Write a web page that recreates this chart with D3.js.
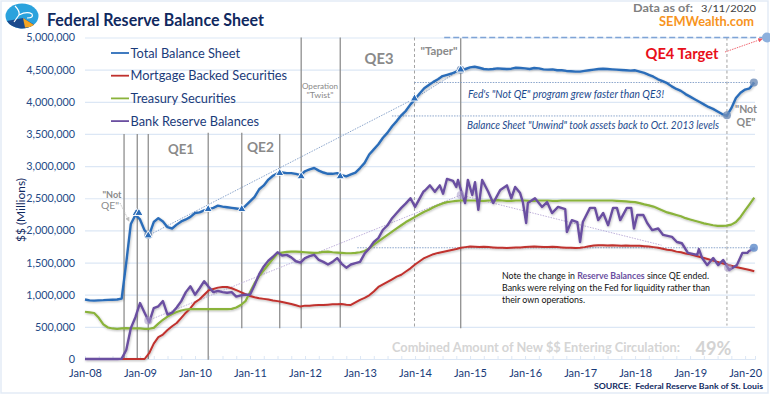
<!DOCTYPE html>
<html>
<head>
<meta charset="utf-8">
<script src="https://cdn.jsdelivr.net/npm/d3@7"></script>
<style>
html, body { margin: 0; padding: 0; background: #fff; }
svg { display: block; }
text { font-family: Lato, sans-serif; }
</style>
</head>
<body>
<svg id="chart" width="770" height="395"></svg>
<script>
// monthly values, $ billions (axis labels are shown in millions)
var totalAssets = [
    925,912,908,912,915,920,922,925,940,1500,2100,2240,
    2170,2000,1930,2130,2190,2140,2050,2030,2090,2140,2170,2210,
    2270,2280,2310,2330,2350,2385,2370,2360,2350,2340,2330,2380,
    2450,2520,2640,2700,2790,2850,2890,2900,2890,2890,2880,2860,
    2920,2950,2970,2930,2900,2880,2880,2890,2860,2840,2870,2900,
    2970,3050,3180,3260,3340,3440,3520,3620,3700,3790,3860,3960,
    4040,4130,4210,4260,4310,4350,4400,4420,4440,4470,4490,4510,
    4535,4545,4530,4510,4505,4510,4520,4515,4510,4515,4530,4525,
    4520,4510,4525,4520,4505,4500,4505,4490,4490,4480,4475,4470,
    4470,4480,4490,4500,4510,4515,4510,4505,4500,4495,4490,4485,
    4490,4470,4450,4420,4390,4350,4320,4290,4240,4200,4170,4120,
    4080,4040,4000,3960,3920,3890,3850,3810,3780,3900,4060,4140,
    4190,4210,4300
];
var mortgageBacked = [
    0,0,0,0,0,0,0,0,0,0,0,0,
    0,0,90,240,340,380,450,510,560,640,720,790,
    880,930,1000,1070,1090,1110,1120,1120,1100,1070,1040,1010,
    980,960,945,935,925,910,900,885,870,855,835,815,
    830,830,835,840,840,845,850,850,855,845,840,880,
    920,950,990,1050,1120,1160,1200,1240,1280,1310,1360,1410,
    1470,1520,1570,1600,1630,1650,1665,1680,1695,1710,1730,1740,
    1750,1745,1740,1745,1740,1735,1730,1730,1725,1730,1735,1735,
    1740,1745,1750,1745,1740,1740,1745,1740,1735,1730,1730,1725,
    1730,1740,1755,1765,1770,1770,1765,1770,1765,1760,1765,1760,
    1760,1760,1755,1750,1740,1730,1715,1700,1690,1670,1660,1640,
    1630,1610,1590,1570,1550,1530,1510,1490,1470,1450,1430,1415,
    1400,1385,1365
];
var treasurySecurities = [
    735,725,715,640,540,490,475,470,475,480,475,475,
    475,470,470,485,550,610,660,700,730,755,770,775,
    775,775,775,775,775,775,775,775,780,800,840,900,
    1040,1180,1290,1380,1470,1560,1640,1655,1665,1670,1670,1665,
    1660,1655,1650,1655,1665,1670,1660,1655,1650,1645,1645,1650,
    1660,1680,1720,1780,1830,1880,1930,1980,2030,2080,2130,2170,
    2210,2250,2290,2320,2360,2390,2420,2440,2450,2460,2465,2465,
    2465,2465,2460,2460,2465,2465,2470,2465,2460,2460,2465,2465,
    2465,2460,2460,2465,2465,2465,2460,2460,2465,2465,2465,2465,
    2465,2465,2465,2465,2465,2465,2465,2465,2460,2455,2450,2445,
    2440,2425,2405,2390,2370,2340,2310,2280,2260,2240,2220,2190,
    2170,2150,2130,2110,2095,2080,2070,2070,2075,2090,2130,2210,
    2310,2410,2510
];
// reserves are read monthly up to 2013, then spike by spike
var reserveEarly = [
    0,0,0,0,0,0,0,0,5,140,480,650,
    870,720,570,790,820,900,690,720,800,900,1040,1130,
    1000,1100,1210,1120,1040,1060,1040,1030,1040,970,990,1000,
    1000,1150,1320,1440,1530,1590,1660,1610,1620,1580,1520,1500,
    1570,1600,1620,1540,1510,1470,1510,1570,1480,1420,1470,1490,
    1510,1640,1720,1820,1880,2010,2080,2190,2270,2350,2420,2500
];
var reserveLateYears = [
    2014.00,2014.15,2014.18,2014.27,2014.36,2014.45,2014.51,2014.58,2014.69,2014.75,2014.78,2014.85,2014.91,2014.96,
    2015.04,2015.09,2015.15,2015.22,2015.33,2015.42,2015.55,2015.67,2015.75,2015.82,2015.91,2015.96,
    2016.02,2016.05,2016.18,2016.31,2016.40,2016.49,2016.60,2016.73,2016.76,2016.85,2016.95,
    2017.00,2017.05,2017.18,2017.27,2017.33,2017.42,2017.51,2017.60,2017.67,2017.73,2017.85,2017.93,2017.98,
    2018.04,2018.15,2018.22,2018.31,2018.42,2018.51,2018.67,2018.76,2018.85,2018.96,
    2019.13,2019.16,2019.22,2019.31,2019.42,2019.51,2019.60,2019.71,2019.85,2019.95,
    2020.04,2020.07,2020.18
];
var reserveLate = [
    2365,2600,2620,2700,2600,2700,2570,2800,2770,2675,2785,2580,2425,2785,
    2550,2750,2320,2785,2600,2425,2630,2700,2500,2675,2580,2440,
    2115,2425,2500,2365,2440,2270,2365,2330,1975,2160,2130,
    1820,2130,2350,2350,2160,2270,2080,2350,2350,2160,2350,2350,2030,
    2240,2240,2115,2005,2030,1930,1900,1820,1800,1650,
    1620,1710,1570,1460,1570,1460,1540,1385,1460,1650,
    1650,1680,1725
];

var yTicks = [0,500,1000,1500,2000,2500,3000,3500,4000,4500,5000];
var xTickYears = [2008,2009,2010,2011,2012,2013,2014,2015,2016,2017,2018,2019,2020];
var xTickLabels = ["Jan-08","Jan-09","Jan-10","Jan-11","Jan-12","Jan-13","Jan-14","Jan-15","Jan-16","Jan-17","Jan-18","Jan-19","Jan-20"];

// program dates: year, top and bottom of the rule in $ billions
var solidRules = [
    [2008.71,3500,0],[2008.95,3500,0],[2009.15,3500,0],[2010.24,3520,-10],[2010.85,3520,480],
    [2011.54,3500,480],[2011.93,5000,480],[2012.64,5000,490],[2014.83,4990,480]
];
var dashedRules = [[2013.99,5000,490],[2019.67,5000,520]];
var triangles = [[2008.93,2270],[2008.98,2270],[2009.15,1920],[2010.24,2330],[2010.85,2330],[2011.54,2890],[2011.93,2840],[2012.64,2840],[2013.99,4050],[2014.83,4500]];
var totalDots = [[2009.15,1930],[2014.83,4500],[2019.67,3790],[2020.16,4300]];
var reserveDots = [[2009.15,600],[2014.83,2550],[2019.69,1420],[2020.16,1730]];
var legendNames = ["Total Balance Sheet","Mortgage Backed Securities","Treasury Securities","Bank Reserve Balances"];
var colors = ["#2c6db9","#c0312d","#8ab33b","#6b4fa1"];

var months = d3.range(147).map(function(i) { return 2008 + i / 12; });
var reserveYears = months.slice(0, 72).concat(reserveLateYears);
var reserveValues = reserveEarly.concat(reserveLate);

var svg = d3.select("#chart");
var x = d3.scaleLinear().domain([2008, 2020.18]).range([85, 755]);
var y = d3.scaleLinear().domain([0, 5000]).range([359, 37.5]);

var defs = svg.append("defs");
var shadow = defs.append("filter").attr("id", "soft").attr("x", "-5%").attr("y", "-5%").attr("width", "110%").attr("height", "115%");
shadow.append("feDropShadow").attr("dx", 0.6).attr("dy", 1).attr("stdDeviation", 0.8).attr("flood-color", "#000").attr("flood-opacity", 0.28);

// outer frame
svg.append("rect").attr("x", 1).attr("y", 1).attr("width", 767).attr("height", 392)
    .attr("fill", "#fff").attr("stroke", "#e3ebf6").attr("stroke-width", 1.5);

// y axis + gridlines
var yAxis = svg.append("g").attr("transform", "translate(85,0)")
    .call(d3.axisLeft(y).tickValues(yTicks).tickSize(-670).tickPadding(10)
        .tickFormat(function(d) { return d3.format(",")(d * 1000); }));
yAxis.select(".domain").remove();
yAxis.selectAll("line").attr("stroke", "#dce7f5").attr("stroke-width", 1.2);
yAxis.selectAll("text").attr("fill", "#254a86").style("font-size", "10.8px").attr("font-family", "Lato");

// x axis with quarter ticks
var minorAxis = svg.append("g").attr("transform", "translate(0,359)")
    .call(d3.axisBottom(x).tickValues(d3.range(2008, 2020.2, 0.25)).tickSize(-3).tickFormat(""));
minorAxis.select(".domain").attr("stroke", "#dce7f5");
minorAxis.selectAll("line").attr("stroke", "#dce7f5");
var xAxis = svg.append("g").attr("transform", "translate(0,359)")
    .call(d3.axisBottom(x).tickValues(xTickYears).tickSize(0).tickPadding(10)
        .tickFormat(function(d, i) { return xTickLabels[i]; }));
xAxis.select(".domain").remove();
xAxis.selectAll("text").attr("fill", "#173a78").style("font-size", "11px");

// program rules
svg.append("g").selectAll("line").data(solidRules).enter().append("line")
    .attr("x1", function(d) { return x(d[0]); }).attr("x2", function(d) { return x(d[0]); })
    .attr("y1", function(d) { return y(d[1]); }).attr("y2", function(d) { return y(d[2]); })
    .attr("stroke", "#8f8f8f").attr("stroke-width", 1.3);
svg.append("g").selectAll("line").data(dashedRules).enter().append("line")
    .attr("x1", function(d) { return x(d[0]); }).attr("x2", function(d) { return x(d[0]); })
    .attr("y1", function(d) { return y(d[1]); }).attr("y2", function(d) { return y(d[2]); })
    .attr("stroke", "#a3a3a3").attr("stroke-width", 1).attr("stroke-dasharray", "3,2.5");

// trend and reference lines
var path = d3.line().x(function(d) { return x(d[0]); }).y(function(d) { return y(d[1]); });
function dotted(points, color) {
    svg.append("path").attr("d", path(points)).attr("fill", "none")
        .attr("stroke", color).attr("stroke-width", 0.9).attr("stroke-dasharray", "1.5,1.2");
}
dotted([[2009.15,1920],[2013.99,4050],[2014.83,4500]], "#7f9cc6");
dotted([[2009.15,600],[2014.83,2550],[2018.48,1770]], "#b7a7d6");
dotted([[2013.99,4300],[2020.16,4300]], "#7f9cc6");
dotted([[2013.58,3780],[2019.67,3780]], "#7f9cc6");
dotted([[2012.95,1730],[2020.16,1730]], "#7f9cc6");

// QE4 target
svg.append("line").attr("x1", x(2014.53)).attr("x2", 770).attr("y1", y(5000)).attr("y2", y(5000))
    .attr("stroke", "#7fa4d6").attr("stroke-width", 1.6).attr("stroke-dasharray", "6,3");
svg.append("circle").attr("cx", 767).attr("cy", y(5000)).attr("r", 5).attr("fill", "#8db0dd");

// the four series
var seriesLine = d3.line().x(function(d) { return x(d[0]); }).y(function(d) { return y(d[1]); });
var lines = svg.append("g").attr("filter", "url(#soft)").attr("fill", "none").attr("stroke-linejoin", "round");
lines.append("path").attr("d", seriesLine(d3.zip(months, mortgageBacked))).attr("stroke", colors[1]).attr("stroke-width", 2);
lines.append("path").attr("d", seriesLine(d3.zip(months, treasurySecurities))).attr("stroke", colors[2]).attr("stroke-width", 2.2);
lines.append("path").attr("d", seriesLine(d3.zip(reserveYears, reserveValues))).attr("stroke", colors[3]).attr("stroke-width", 2.4);
lines.append("path").attr("d", seriesLine(d3.zip(months, totalAssets))).attr("stroke", colors[0]).attr("stroke-width", 2.4);

// markers
svg.append("g").selectAll("circle").data(totalDots).enter().append("circle")
    .attr("cx", function(d) { return x(d[0]); }).attr("cy", function(d) { return y(d[1]); }).attr("r", 4)
    .attr("fill", "#6f8db8").attr("fill-opacity", 0.8);
svg.append("g").selectAll("circle").data(reserveDots).enter().append("circle")
    .attr("cx", function(d) { return x(d[0]); }).attr("cy", function(d) { return y(d[1]); }).attr("r", 4)
    .attr("fill", function(d, i) { return i == 3 ? "#6f97cf" : "#a89bc9"; }).attr("fill-opacity", function(d, i) { return i == 3 ? 0.9 : 0.55; });
var tri = d3.symbol().type(d3.symbolTriangle).size(30);
svg.append("g").selectAll("path").data(triangles).enter().append("path")
    .attr("d", tri).attr("transform", function(d) { return "translate(" + x(d[0]) + "," + y(d[1]) + ")"; })
    .attr("fill", "#2c6db9").attr("stroke", "#fff").attr("stroke-width", 1);

// legend
var legend = svg.append("g").selectAll("g").data(legendNames).enter().append("g")
    .attr("transform", function(d, i) { return "translate(111," + (53 + i * 22.7) + ")"; });
legend.append("line").attr("x2", 18).attr("stroke", function(d, i) { return colors[i]; }).attr("stroke-width", 1.8);
legend.append("text").attr("x", 19.5).attr("y", 4.5).attr("fill", "#1b3b7a").style("font-size", "12.8px").text(function(d) { return d; });

// text helper, width squeezes the text to the measured run in the picture
function label(px, py, str, size, color, opts) {
    opts = opts || {};
    var t = svg.append("text").attr("x", px).attr("y", py).text(str)
        .attr("fill", color).style("font-size", size + "px")
        .attr("text-anchor", opts.anchor || "start")
        .attr("font-weight", opts.weight || "normal")
        .attr("font-style", opts.style || "normal")
        .attr("font-family", opts.family || "Lato");
    if (opts.width) t.attr("textLength", opts.width).attr("lengthAdjust", "spacingAndGlyphs");
    return t;
}

// logo
var logo = svg.append("g").attr("transform", "translate(22,16)");
logo.append("ellipse").attr("rx", 16.5).attr("ry", 12.5).attr("fill", "#2aa2dd");
logo.append("path").attr("d", "M-15,5 A16.5,12.5 0 0 0 12,8.5 L1,2 Z").attr("fill", "#1b4a8c");
logo.append("path").attr("d", "M1,2 L12,9 Q7,12 3,11.5 Z").attr("fill", "#f6a623");
logo.append("path").attr("d", "M-7,-10 Q-2,-5 -3,-1 Q5,-5 10,-2 Q12,2 5,2 M-3,-1 L-8,6").attr("fill", "none").attr("stroke", "#fff").attr("stroke-width", 1.2);

label(47, 25.5, "Federal Reserve Balance Sheet", 16.5, "#10295f", {weight: "bold", width: 217});
label(633, 11.5, "Data as of:", 11, "#808080", {weight: "bold", family: "Liberation Sans", width: 60});
label(701, 11.5, "3/11/2020", 9.8, "#404040", {family: "DejaVu Sans Mono", width: 55});
label(659, 26, "SEMWealth.com", 13, "#f7941d", {weight: "bold", width: 95});
svg.append("text").attr("transform", "translate(25,210) rotate(-90)").attr("text-anchor", "middle")
    .attr("fill", "#10295f").style("font-size", "11.5px").attr("textLength", 64).attr("lengthAdjust", "spacingAndGlyphs").text("$$ (Millions)");

var grey = "#8a8a8a";
label(181, 154, "QE1", 14, grey, {anchor: "middle", weight: "bold", family: "Liberation Sans", width: 26});
label(260.5, 152, "QE2", 14, grey, {anchor: "middle", weight: "bold", family: "Liberation Sans", width: 27});
label(379, 64, "QE3", 15, grey, {anchor: "middle", weight: "bold", family: "Liberation Sans", width: 29});
label(320, 88.5, "Operation", 7.8, grey, {anchor: "middle", family: "Liberation Sans", width: 36});
label(320, 97.5, "\"Twist\"", 7.8, grey, {anchor: "middle", family: "Liberation Sans", width: 27});
label(439, 55, "\"Taper\"", 10.5, grey, {anchor: "middle", weight: "bold", family: "Liberation Sans", width: 37});
label(112, 198, "\"Not", 8.8, grey, {anchor: "middle", weight: "bold", family: "Liberation Sans", width: 19});
label(110, 208.5, "QE\"", 8.8, grey, {anchor: "middle", family: "Liberation Sans", width: 18});
label(746, 113, "\"Not", 10.8, grey, {anchor: "middle", weight: "bold", family: "Liberation Sans", width: 22});
label(746, 125.8, "QE\"", 10.8, grey, {anchor: "middle", weight: "bold", family: "Liberation Sans", width: 19});
label(645.5, 59, "QE4 Target", 15, "#e8101a", {weight: "bold", family: "Liberation Sans", width: 73});

// pointers
defs.append("marker").attr("id", "headRed").attr("viewBox", "0 0 6 6").attr("refX", 5).attr("refY", 3)
    .attr("markerWidth", 5).attr("markerHeight", 5).attr("orient", "auto")
    .append("path").attr("d", "M0,0 L6,3 L0,6 Z").attr("fill", "#ee5560");
defs.append("marker").attr("id", "headGrey").attr("viewBox", "0 0 6 6").attr("refX", 5).attr("refY", 3)
    .attr("markerWidth", 5).attr("markerHeight", 5).attr("orient", "auto")
    .append("path").attr("d", "M0,0 L6,3 L0,6 Z").attr("fill", "#bdbdbd");
svg.append("line").attr("x1", 725).attr("y1", 52).attr("x2", 762).attr("y2", 39)
    .attr("stroke", "#ee5560").attr("stroke-width", 0.9).attr("stroke-dasharray", "1.5,1").attr("marker-end", "url(#headRed)");
svg.append("line").attr("x1", 120).attr("y1", 203).attr("x2", 129).attr("y2", 221)
    .attr("stroke", "#bdbdbd").attr("stroke-width", 0.9).attr("stroke-dasharray", "1.5,1").attr("marker-end", "url(#headGrey)");

var blue = "#1d4a8e";
label(468, 98, "Fed's \"Not QE\" program grew faster than QE3!", 10.5, blue, {style: "italic", width: 196});
label(467, 129, "Balance Sheet \"Unwind\" took assets back to Oct. 2013 levels", 10.5, blue, {style: "italic", width: 252});

var note = label(502, 279, "Note the change in ", 9.6, "#111", {width: 207});
note.append("tspan").attr("font-weight", "bold").attr("fill", "#6b4fa1").text("Reserve Balances");
note.append("tspan").text(" since QE ended.");
label(502, 291, "Banks were relying on the Fed for liquidity rather than", 9.6, "#111", {width: 208});
label(502, 303, "their own operations.", 9.6, "#111", {width: 83});

label(392, 352, "Combined Amount of New $$ Entering Circulation:", 13.2, "#d5d5d5", {weight: "bold", width: 288});
label(695.5, 355, "49%", 18, "#d3d3d3", {weight: "bold", width: 36});
label(594, 389, "SOURCE:  Federal Reserve Bank of St. Louis", 8.4, "#10295f", {weight: "bold", width: 169}).style("white-space", "pre");
</script>
</body>
</html>
